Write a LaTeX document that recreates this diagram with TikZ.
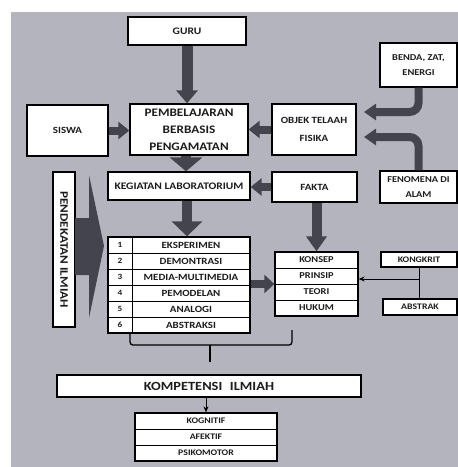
\documentclass[tikz,border=0pt]{standalone}
\usepackage{fontspec}
\setmainfont{Carlito}[FakeStretch=1.15]
\usetikzlibrary{arrows.meta}
\definecolor{bg}{RGB}{180,180,190}
\definecolor{dk}{RGB}{68,68,76}
\definecolor{tx}{RGB}{28,28,28}
\newcommand{\lblsz}[1]{\bfseries\fontsize{#1}{#1}\selectfont}
\tikzset{
  box/.style={draw=black, line width=1.3pt, fill=white, inner sep=0pt, align=center, text=tx},
  cell/.style={draw=black, line width=0.9pt, inner sep=0pt, minimum height=16pt, text=tx},
  fat/.style args={#1/#2/#3}{draw=dk, line width=#1, -{Triangle[width=#2,length=#3]}},
  thinarrow/.style={draw=black, line width=1pt, -{Stealth[length=6pt,width=5pt]}}
}
\begin{document}
\begin{tikzpicture}[x=1pt,y=-1pt]
\useasboundingbox (0,0) rectangle (458,467);
\fill[bg] (11,12) rectangle (458,467);

% top boxes
\node[box, minimum width=118pt, minimum height=28pt, font=\lblsz{10}] (guru) at (187,31) {GURU};
\node[box, minimum width=81pt, minimum height=51pt, font=\lblsz{9.5}] (siswa) at (67.5,130.5) {SISWA};
\node[box, minimum width=118pt, minimum height=51pt, font=\lblsz{11.5}, text width=116pt, execute at begin node=\setlength{\baselineskip}{17pt}] (pemb) at (189,129.5) {PEMBELAJARAN\\BERBASIS\\PENGAMATAN};
\node[box, minimum width=84pt, minimum height=51pt, font=\lblsz{9.5}, execute at begin node=\setlength{\baselineskip}{18pt}] (objek) at (314,129.5) {OBJEK TELAAH\\FISIKA};
\node[box, minimum width=77pt, minimum height=44pt, font=\lblsz{9}, execute at begin node=\setlength{\baselineskip}{15pt}] (benda) at (418.5,65) {BENDA, ZAT,\\ENERGI};
\node[box, minimum width=77pt, minimum height=32pt, font=\lblsz{9}, execute at begin node=\setlength{\baselineskip}{15pt}] (fenomena) at (418.5,187) {FENOMENA DI\\ALAM};
\node[box, minimum width=142pt, minimum height=28pt, font=\lblsz{10}] (kegiatan) at (179,186) {KEGIATAN LABORATORIUM};
\node[box, minimum width=85pt, minimum height=30pt, font=\lblsz{9.5}] (fakta) at (314.5,187) {FAKTA};
\node[box, rotate=-90, minimum width=155pt, minimum height=22pt, font=\lblsz{11.5}] (pend) at (64,249.5) {PENDEKATAN ILMIAH};

% method list
\node[box, minimum width=142pt, minimum height=96pt] (list) at (179,285) {};
\foreach \i/\t in {1/EKSPERIMEN,2/DEMONTRASI,3/MEDIA-MULTIMEDIA,4/PEMODELAN,5/ANALOGI,6/ABSTRAKSI}{
  \node[cell, minimum width=24pt, font=\lblsz{8}] (n\i) at (120,229+16*\i) {\i};
  \node[cell, minimum width=118pt, font=\lblsz{9.5}] (c\i) at (191,229+16*\i) {\t};
}

% konsep table
\node[box, minimum width=83pt, minimum height=64pt] (ktab) at (316.5,284) {};
\foreach \i/\t in {1/KONSEP,2/PRINSIP,3/TEORI,4/HUKUM}{
  \node[cell, minimum width=83pt, font=\lblsz{9}] (k\i) at (316.5,244+16*\i) {\t};
}

\node[box, line width=1.1pt, minimum width=76pt, minimum height=15pt, font=\lblsz{8.5}] (kongkrit) at (419,259.5) {KONGKRIT};
\node[box, line width=1.1pt, minimum width=74pt, minimum height=16pt, font=\lblsz{8.5}] (abstrak) at (420,307) {ABSTRAK};

% kompetensi
\node[box, minimum width=304pt, minimum height=22pt, font=\lblsz{12.5}] (komp) at (209,386) {KOMPETENSI\hspace{0.35em} ILMIAH};
\node[box, minimum width=142pt, minimum height=48pt] (kogtab) at (206,437) {};
\foreach \i/\t in {1/KOGNITIF,2/AFEKTIF,3/PSIKOMOTOR}{
  \node[cell, minimum width=142pt, font=\lblsz{8.5}] (g\i) at (206,405+16*\i) {\t};
}

% fat arrows
\draw[fat=11pt/21pt/13pt] (guru.south) -- (guru.south |- pemb.north);
\draw[fat=8pt/17pt/11pt] (siswa.east) -- (siswa.east -| pemb.west);
\draw[fat=8pt/17pt/11pt] (objek.west) -- (objek.west -| pemb.east);
\coordinate (t1) at (364,112);
\coordinate (t2) at (364,137);
\draw[fat=8pt/16pt/12pt, rounded corners=9pt] (benda.south) |- (t1);
\draw[fat=8pt/16pt/12pt, rounded corners=9pt] (fenomena.north) |- (t2);
\draw[fat=10pt/32pt/14pt] ([xshift=-3pt]pemb.south) -- ([xshift=-3pt]pemb.south |- kegiatan.north);
\draw[fat=8pt/17pt/11pt] (fakta.west) -- (fakta.west -| kegiatan.east);
\draw[fat=10pt/30pt/15pt] ([xshift=8pt]kegiatan.south) -- ([xshift=8pt]kegiatan.south |- list.north);
\draw[fat=10pt/20pt/15pt] (fakta.south -| ktab.north) -- (ktab.north);
\draw[fat=8pt/18pt/10pt] (list.east |- ktab.west) -- (ktab.west);

% big side arrow
\fill[dk] (75,218) -- (89,218) -- (89,175) -- (104,246) -- (89,318) -- (89,275) -- (75,275) -- cycle;

% kongkrit / abstrak link
\coordinate (j) at (419,279);
\draw[line width=1pt] (kongkrit.south) -- (kongkrit.south |- abstrak.north);
\draw[thinarrow] (j) -- (j -| ktab.east);

% bracket
\coordinate (br) at (210,345);
\coordinate (bt) at (210,362);
\draw[line width=1.3pt, rounded corners=3pt] (130,333) |- (292,345) -- (292,330);
\draw[line width=1.3pt] (br) -- (bt);

\draw[thinarrow] (kogtab.north |- komp.south) -- (kogtab.north);
\end{tikzpicture}
\end{document}
